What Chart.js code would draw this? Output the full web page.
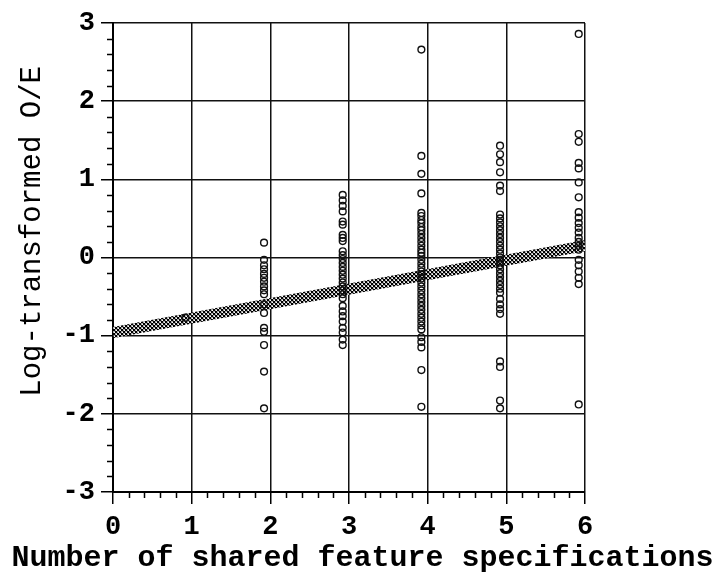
<!DOCTYPE html>
<html>
<head>
<meta charset="utf-8">
<script src="https://cdn.jsdelivr.net/npm/chart.js@4.4.1/dist/chart.umd.min.js"></script>
<style>
  body { margin: 0; background: #fff; }
  #wrap { width: 725px; height: 578px; }
</style>
</head>
<body>
<div id="wrap"><canvas id="chart" width="725" height="578"></canvas></div>
<script>
// number of shared feature specifications (columns, drawn slightly left of the tick)
var groupX = [0.92, 1.92, 2.92, 3.92, 4.92, 5.92];

// log-transformed O/E per column
var group1 = [-0.77];
var group2 = [0.19, -0.03, -0.10, -0.15, -0.21, -0.26, -0.31, -0.37, -0.42, -0.47, -0.60, -0.71, -0.90, -0.95, -1.12, -1.46, -1.93];
var group3 = [0.80, 0.73, 0.66, 0.59, 0.46, 0.42, 0.29, 0.25, 0.21, 0.08, 0.03, -0.02, -0.07, -0.12, -0.17, -0.22,
  -0.27, -0.32, -0.37, -0.42, -0.47, -0.52, -0.62, -0.69, -0.75, -0.82, -0.90, -0.96, -1.05, -1.12];
var group4 = [2.66, 1.30, 1.07, 0.82, 0.57, 0.53, 0.48, 0.44, 0.39, 0.35, 0.30, 0.25, 0.20, 0.15, 0.10, 0.06, 0.02,
  -0.03, -0.08, -0.13, -0.18, -0.22, -0.27, -0.32, -0.37, -0.42, -0.47, -0.52, -0.57, -0.62, -0.67, -0.72, -0.77,
  -0.82, -0.87, -0.92, -1.02, -1.08, -1.15, -1.44, -1.91];
var group5 = [1.43, 1.32, 1.22, 1.09, 0.92, 0.85, 0.55, 0.50, 0.45, 0.40, 0.35, 0.30, 0.25, 0.20, 0.15, 0.10, 0.05,
  0.00, -0.05, -0.10, -0.15, -0.20, -0.25, -0.30, -0.35, -0.40, -0.45, -0.53, -0.60, -0.66, -0.72, -1.33, -1.40,
  -1.83, -1.93];
var group6 = [2.86, 1.58, 1.48, 1.21, 1.14, 0.96, 0.77, 0.58, 0.51, 0.44, 0.38, 0.32, 0.25, 0.20, 0.15, 0.10,
  -0.03, -0.10, -0.18, -0.26, -0.34, -1.88];
var groups = [group1, group2, group3, group4, group5, group6];

// fitted regression line
var fitX = [0, 6];
var fitY = [-0.96, 0.15];

var xTicks = [0, 1, 2, 3, 4, 5, 6];
var yTicks = [-3, -2, -1, 0, 1, 2, 3];

var monoFont = "'Liberation Mono', 'Courier New', monospace";

// hatched fill for the thick fitted line
function hatch() {
  var c = document.createElement('canvas');
  c.width = 4; c.height = 4;
  var g = c.getContext('2d');
  g.fillStyle = '#aaa';
  g.fillRect(0, 0, 4, 4);
  g.fillStyle = '#000';
  for (var i = 0; i < 4; i++) {
    g.fillRect(i, i, 1, 1);
    g.fillRect(3 - i, i, 1, 1);
  }
  g.fillStyle = '#fff';
  g.fillRect(2, 0, 1, 1);
  g.fillRect(0, 2, 1, 1);
  return g.createPattern(c, 'repeat');
}

var points = [];
groups.forEach(function(vals, i) {
  vals.forEach(function(v) { points.push({x: groupX[i], y: v}); });
});

var fitLine = fitX.map(function(x, i) { return {x: x, y: fitY[i]}; });

// short minor ticks every 0.2 between the labelled ones
var minorTicks = {
  id: 'minorTicks',
  afterDraw: function(chart) {
    var ctx = chart.ctx, area = chart.chartArea;
    var xs = chart.scales.x, ys = chart.scales.y;
    ctx.save();
    ctx.strokeStyle = '#000';
    ctx.lineWidth = 1.5;
    ctx.beginPath();
    for (var i = 1; i < 30; i++) {
      if (i % 5 === 0) continue;
      var px = Math.round(xs.getPixelForValue(i * 0.2)) + 0.5;
      ctx.moveTo(px, area.bottom);
      ctx.lineTo(px, area.bottom + 6);
      var py = Math.round(ys.getPixelForValue(-3 + i * 0.2)) + 0.5;
      ctx.moveTo(area.left, py);
      ctx.lineTo(area.left - 6, py);
    }
    ctx.stroke();
    ctx.restore();
  }
};

var ctx = document.getElementById('chart').getContext('2d');
new Chart(ctx, {
  type: 'scatter',
  data: {
    datasets: [{
      data: points,
      pointStyle: 'circle',
      pointRadius: 3.4,
      pointBorderWidth: 1.4,
      pointBorderColor: '#111',
      pointBackgroundColor: 'rgba(0,0,0,0)',
      order: 1
    }, {
      data: fitLine,
      showLine: true,
      borderColor: hatch(),
      borderWidth: 11,
      borderCapStyle: 'butt',
      pointRadius: 0,
      order: 2
    }]
  },
  options: {
    responsive: false,
    animation: false,
    layout: { padding: { top: 23, right: 0, left: 0, bottom: 0 } },
    plugins: {
      legend: { display: false },
      tooltip: { enabled: false },
      title: {
        display: true,
        position: 'bottom',
        text: 'Number of shared feature specifications',
        color: '#000',
        padding: { top: 0, bottom: 2 },
        font: { family: monoFont, size: 30, weight: 'bold', lineHeight: 1.2 }
      }
    },
    scales: {
      x: {
        type: 'linear', min: 0, max: 6,
        afterBuildTicks: function(s) { s.ticks = xTicks.map(function(v) { return {value: v}; }); },
        afterFit: function(s) { s.height = 48; },
        ticks: { color: '#000', padding: 7, maxRotation: 0, font: { family: monoFont, size: 27, weight: 'bold' } },
        grid: { color: '#111', lineWidth: 1.5, tickLength: 12, tickColor: '#000' },
        border: { color: '#000', width: 2 }
      },
      y: {
        type: 'linear', min: -3, max: 3,
        afterBuildTicks: function(s) { s.ticks = yTicks.map(function(v) { return {value: v}; }); },
        afterFit: function(s) { s.width = 113; },
        ticks: { color: '#000', padding: 6, font: { family: monoFont, size: 27, weight: 'bold' } },
        grid: { color: '#111', lineWidth: 1.5, tickLength: 12, tickColor: '#000' },
        border: { color: '#000', width: 2 },
        title: {
          display: true,
          text: '   Log-transformed O/E',
          color: '#000',
          padding: { top: 15, bottom: 0 },
          font: { family: monoFont, size: 29 }
        }
      },
      // empty right axis that keeps the blank margin right of the plot
      yRight: {
        type: 'linear', position: 'right', min: -3, max: 3,
        afterFit: function(s) { s.width = 140; },
        ticks: { display: false },
        grid: { display: false, drawTicks: false },
        border: { display: false }
      }
    }
  },
  plugins: [minorTicks]
});
</script>
</body>
</html>
